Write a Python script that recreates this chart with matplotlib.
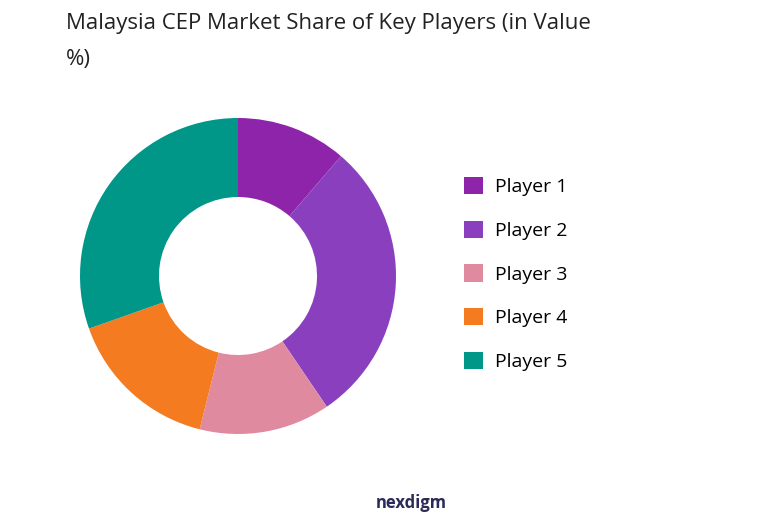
import matplotlib
matplotlib.use("Agg")
import matplotlib.pyplot as plt
from matplotlib.patches import Patch

players = ["Player 1", "Player 2", "Player 3", "Player 4", "Player 5"]
shares = [11.3, 29.2, 13.4, 15.7, 30.4]
colors = ["#8E24AA", "#8A3FBF", "#E08AA0", "#F47B20", "#009688"]

fig = plt.figure(figsize=(7.82, 5.25), dpi=100)
plt.rcParams["font.family"] = ["Open Sans", "DejaVu Sans"]

W, H = 782, 525
cx, cy, r = 238, 276, 158
ax = fig.add_axes([(cx - r) / W, 1 - (cy + r) / H, 2 * r / W, 2 * r / H])
ax.pie(shares, colors=colors, startangle=90, counterclock=False, radius=1.0,
       wedgeprops=dict(width=0.5, edgecolor="none"))
ax.set_xlim(-1, 1)
ax.set_ylim(-1, 1)
ax.set_aspect("equal")
ax.axis("off")

fig.text(66 / W, 1 - 24 / H, "Malaysia CEP Market Share of Key Players (in Value",
         fontsize=16, color="#222222", va="center")
fig.text(66 / W, 1 - 59 / H, "%)", fontsize=16, color="#222222", va="center")

handles = [Patch(facecolor=c) for c in colors]
fig.legend(handles, players, loc="center left", bbox_to_anchor=(446 / W, 1 - 274 / H),
           frameon=False, fontsize=14, handlelength=1.0, handleheight=1.0,
           labelspacing=1.25, handletextpad=0.6)

fig.text(376 / W, 1 - 503 / H, "nexdigm", fontsize=12, fontweight="bold",
         color="#2B2B5A", va="center")

fig.savefig("out.png", dpi=100)
